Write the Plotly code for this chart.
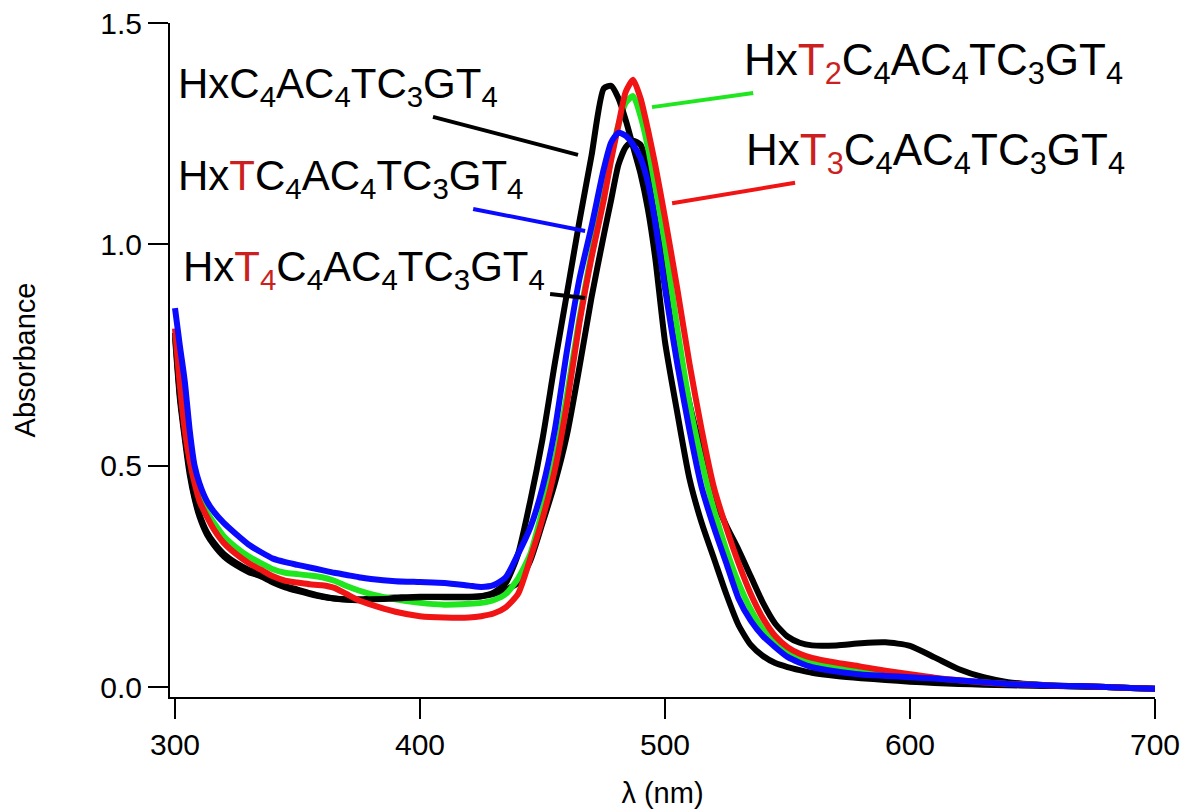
import plotly.graph_objects as go

# Absorption spectra (absorbance vs wavelength) of the five hexyl-tagged strands
wavelength_nm = [
    300, 302, 304, 306, 308, 310,
    313, 316, 320,
    325, 330, 335, 340, 345, 350, 355, 360, 365, 370, 375, 380,
    390, 400, 410, 420,
    425, 430, 435, 440, 445, 450, 455, 460, 465, 470, 475,
    478, 481, 484, 487, 490, 493, 496,
    500, 505, 510, 515, 520, 525, 530, 535, 540, 545, 550, 555, 560,
    570, 580, 590, 600, 610, 620, 630, 640, 650, 660, 670, 680, 690, 700,
]

abs_hx = [
    0.80, 0.66, 0.57, 0.49, 0.43, 0.39,
    0.35, 0.325, 0.30,
    0.28, 0.265, 0.255, 0.24, 0.228, 0.22, 0.212, 0.205, 0.20, 0.197, 0.196, 0.198,
    0.20, 0.203, 0.203, 0.203,
    0.205, 0.213, 0.235, 0.30, 0.42, 0.56, 0.73, 0.89, 1.05, 1.20, 1.352,
    1.358, 1.33, 1.28, 1.22, 1.16, 1.08, 0.97,
    0.78, 0.62, 0.47, 0.37, 0.29, 0.21, 0.14, 0.095, 0.07, 0.054, 0.045, 0.038, 0.032,
    0.025, 0.02, 0.016, 0.012, 0.009, 0.007, 0.005, 0.004, 0.003, 0.002, 0.001, 0.0, -0.002, -0.004,
]

abs_hx_t4 = [
    0.79, 0.65, 0.56, 0.48, 0.425, 0.385,
    0.345, 0.32, 0.295,
    0.275, 0.26, 0.25, 0.236, 0.225, 0.217, 0.21, 0.204, 0.20, 0.198, 0.198, 0.20,
    0.202, 0.204, 0.204, 0.204,
    0.205, 0.21, 0.22, 0.235, 0.285, 0.37, 0.46, 0.57, 0.72, 0.88, 1.02,
    1.10, 1.18, 1.22, 1.234, 1.225, 1.17, 1.07,
    0.93, 0.78, 0.64, 0.53, 0.43, 0.365, 0.31, 0.25, 0.19, 0.143, 0.114, 0.10, 0.094,
    0.094, 0.099, 0.101, 0.093, 0.067, 0.04, 0.022, 0.011, 0.006, 0.003, 0.001, 0.0, -0.002, -0.004,
]

abs_hx_t1 = [
    0.856, 0.77, 0.69, 0.58, 0.50, 0.46,
    0.42, 0.395, 0.37,
    0.345, 0.322, 0.305, 0.29, 0.282, 0.276, 0.27, 0.264, 0.258, 0.253, 0.248, 0.244,
    0.239, 0.237, 0.235, 0.229,
    0.226, 0.23, 0.248, 0.30, 0.36, 0.45, 0.58, 0.76, 0.92, 1.04, 1.17,
    1.23, 1.252, 1.245, 1.225, 1.195, 1.14, 1.05,
    0.90, 0.73, 0.58, 0.45, 0.36, 0.28, 0.20, 0.15, 0.115, 0.09, 0.068, 0.055, 0.045,
    0.035, 0.028, 0.025, 0.022, 0.019, 0.015, 0.011, 0.007, 0.005, 0.003, 0.002, 0.0, -0.002, -0.004,
]

abs_hx_t2 = [
    0.80, 0.68, 0.59, 0.52, 0.47, 0.43,
    0.395, 0.37, 0.34,
    0.315, 0.295, 0.28, 0.266, 0.258, 0.255, 0.252, 0.248, 0.24, 0.228, 0.218, 0.21,
    0.198, 0.19, 0.186, 0.188,
    0.19, 0.196, 0.21, 0.245, 0.30, 0.40, 0.51, 0.66, 0.83, 0.98, 1.12,
    1.20, 1.27, 1.32, 1.335, 1.29, 1.22, 1.13,
    1.0, 0.81, 0.64, 0.51, 0.40, 0.31, 0.235, 0.175, 0.13, 0.10, 0.08, 0.066, 0.056,
    0.044, 0.036, 0.03, 0.025, 0.019, 0.014, 0.01, 0.007, 0.005, 0.003, 0.002, 0.0, -0.002, -0.004,
]

abs_hx_t3 = [
    0.81, 0.68, 0.58, 0.51, 0.46, 0.42,
    0.385, 0.355, 0.325,
    0.30, 0.28, 0.265, 0.25, 0.24, 0.236, 0.232, 0.23, 0.224, 0.21, 0.196, 0.186,
    0.17, 0.16, 0.157, 0.157,
    0.16, 0.166, 0.18, 0.21, 0.29, 0.38, 0.49, 0.64, 0.82, 0.97, 1.10,
    1.19, 1.27, 1.345, 1.372, 1.33, 1.26, 1.18,
    1.06, 0.90, 0.73, 0.58, 0.45, 0.36, 0.28, 0.21, 0.155, 0.115, 0.09, 0.075, 0.066,
    0.055, 0.046, 0.037, 0.029, 0.021, 0.015, 0.01, 0.007, 0.005, 0.003, 0.002, 0.0, -0.002, -0.004,
]

x_ticks = [300, 400, 500, 600, 700]
y_ticks = [0.0, 0.5, 1.0, 1.5]
y_tick_text = ["0.0", "0.5", "1.0", "1.5"]

RED_T = "#cc1f1f"
FONT_FAMILY = "Arial, 'Liberation Sans', sans-serif"


def strand(prefix_t=""):
    """Sequence label, with the added thymine block in red."""
    return ("Hx" + prefix_t +
            "C<sub>4</sub>AC<sub>4</sub>TC<sub>3</sub>GT<sub>4</sub>")


label_hx = strand()
label_t1 = strand(f'<span style="color:{RED_T}">T</span>')
label_t2 = strand(f'<span style="color:{RED_T}">T<sub>2</sub></span>')
label_t3 = strand(f'<span style="color:{RED_T}">T<sub>3</sub></span>')
label_t4 = strand(f'<span style="color:{RED_T}">T<sub>4</sub></span>')

# drawing order: later traces lie on top
series = [
    (label_t4, abs_hx_t4, "#000000"),
    (label_t2, abs_hx_t2, "#1fe61f"),
    (label_hx, abs_hx, "#000000"),
    (label_t3, abs_hx_t3, "#f01414"),
    (label_t1, abs_hx_t1, "#0a0aff"),
]

fig = go.Figure()
for name, values, color in series:
    fig.add_trace(go.Scatter(
        x=wavelength_nm, y=values, mode="lines", name=name,
        line=dict(color=color, width=6, shape="spline", smoothing=0.6),
        showlegend=False, hoverinfo="skip",
    ))

# text labels: (text, x [nm], y [absorbance], font size)
text_labels = [
    (label_hx, 300.3, 1.357, 42),
    (label_t1, 300.3, 1.148, 42),
    (label_t4, 302.3, 0.944, 42),
    (label_t2, 531.5, 1.410, 44),
    (label_t3, 532.3, 1.207, 44),
]
# leader lines from each label to its curve: (x0, y0, x1, y1, colour)
leaders = [
    (405.3, 1.288, 464.5, 1.202, "#000000"),
    (421.7, 1.080, 467.4, 1.030, "#0a0aff"),
    (453.1, 0.888, 467.4, 0.879, "#000000"),
    (494.7, 1.310, 536.0, 1.342, "#1fe61f"),
    (502.9, 1.093, 553.1, 1.139, "#f01414"),
]

for text, lx, ly, size in text_labels:
    fig.add_annotation(
        x=lx, y=ly, xref="x", yref="y", text=text, showarrow=False,
        xanchor="left", yanchor="middle",
        font=dict(size=size, color="#000000", family=FONT_FAMILY),
    )

for x0, y0, x1, y1, color in leaders:
    fig.add_shape(type="line", xref="x", yref="y", x0=x0, y0=y0, x1=x1, y1=y1,
                  line=dict(color=color, width=4))

tick_font = dict(size=30, color="#000000", family=FONT_FAMILY)
title_font = dict(size=29, color="#000000", family=FONT_FAMILY)

fig.update_xaxes(
    range=[297.96, 700], tickvals=x_ticks, ticks="outside", ticklen=20,
    tickwidth=2, tickcolor="#000000", showline=True, linewidth=2,
    linecolor="#000000", showgrid=False, zeroline=False, tickfont=tick_font,
    title=dict(text="λ (nm)", font=title_font, standoff=24), automargin=False,
)
fig.update_yaxes(
    range=[-0.0226, 1.5], tickvals=y_ticks, ticktext=y_tick_text,
    ticks="outside", ticklen=20, tickwidth=2, tickcolor="#000000",
    showline=True, linewidth=2, linecolor="#000000", showgrid=False,
    zeroline=False, tickfont=tick_font,
    title=dict(text="Absorbance", font=title_font, standoff=56), automargin=False,
)

fig.update_layout(
    width=1188, height=809,
    margin=dict(l=170, r=33, t=23, b=112),
    paper_bgcolor="#ffffff", plot_bgcolor="#ffffff",
    font=tick_font,
)

fig.write_html("out.html")
